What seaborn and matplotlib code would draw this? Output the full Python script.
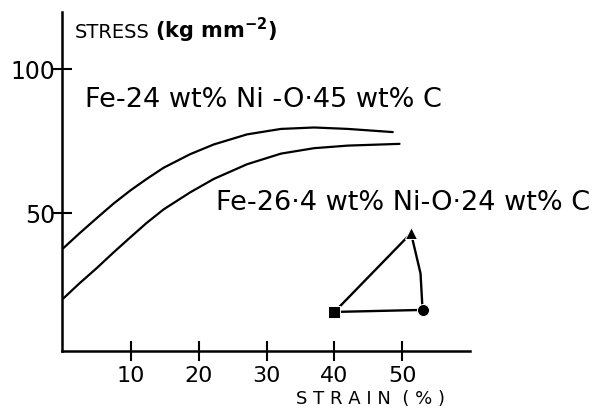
import matplotlib
matplotlib.use('Agg')
import matplotlib.pyplot as plt
import pandas as pd
import seaborn as sns

# curve for Fe-24 wt% Ni - 0.45 wt% C
upper_strain = [0, 2.4, 4.9, 7.4, 9.9, 12.3, 14.8, 18.7, 22.2, 27.1, 32.1, 37, 42, 48.6]
upper_stress = [37.8, 43, 48.2, 53.3, 57.9, 61.9, 65.8, 70.5, 73.9, 77.4, 79.3, 79.8, 79.3, 78.2]

# curve for Fe-26.4 wt% Ni - 0.24 wt% C
lower_strain = [0, 2.4, 4.9, 7.4, 9.9, 12.3, 14.8, 18.7, 22.2, 27.1, 32.1, 37, 42, 49.6]
lower_stress = [20.3, 25.6, 30.8, 36.3, 41.6, 46.6, 51.3, 57.2, 61.9, 67.0, 70.7, 72.6, 73.5, 74.1]

# closed triangle outline (right side bows out a little)
tri_strain = [40, 51.3, 52.7, 53, 40]
tri_stress = [15.6, 43, 29, 16.3, 15.6]
pt_strain = [40, 51.3, 53]
pt_stress = [15.6, 43, 16.3]
pt_marker = ['s', '^', 'o']

x_ticks = [10, 20, 30, 40, 50]
y_ticks = [50, 100]

sns.set_style('ticks')
plt.rcParams['font.family'] = ['DejaVu Sans']
plt.rcParams['text.color'] = 'black'
plt.rcParams['xtick.color'] = 'black'
plt.rcParams['ytick.color'] = 'black'

fig = plt.figure(figsize=(6.11, 4.11), dpi=100)
ax = fig.add_axes([62 / 611, 60 / 411, 408 / 611, 339 / 411])

up = pd.DataFrame({'strain': upper_strain, 'stress': upper_stress})
lo = pd.DataFrame({'strain': lower_strain, 'stress': lower_stress})
sns.lineplot(data=up, x='strain', y='stress', color='black', lw=1.6, ax=ax)
sns.lineplot(data=lo, x='strain', y='stress', color='black', lw=1.6, ax=ax)

tri = pd.DataFrame({'strain': tri_strain, 'stress': tri_stress})
sns.lineplot(data=tri, x='strain', y='stress', sort=False, estimator=None,
             color='black', lw=1.7, ax=ax)
for xs, ys, m in zip(pt_strain, pt_stress, pt_marker):
    sns.scatterplot(x=[xs], y=[ys], marker=m, color='black', s=75, ax=ax, zorder=5)

ax.set_xlim(-0.2, 60)
ax.set_ylim(2, 120)
ax.set_xticks(x_ticks)
ax.set_yticks(y_ticks)
ax.tick_params(direction='inout', length=14, width=1.5, labelsize=16, color='black')
ax.tick_params(axis='y', pad=-2, labelsize=17)
for s in ['top', 'right']:
    ax.spines[s].set_visible(False)
for s in ['left', 'bottom']:
    ax.spines[s].set_linewidth(1.8)
    ax.spines[s].set_color('black')
ax.set_xlabel('')
ax.set_ylabel('')

fig.text(0.485, 0.03, 'S T R A I N  ( % )', fontsize=13, ha='left', va='center')
fig.text(0.122, 0.922, 'STRESS', fontsize=14, ha='left', va='center')
fig.text(0.254, 0.925, r'(kg mm$^{\mathbf{-2}}$)', fontsize=15, fontweight='bold',
         ha='left', va='center')

ax.text(3.2, 89.5, 'Fe-24 wt% Ni -O·45 wt% C', fontsize=19.5, ha='left', va='center')
ax.text(22.5, 53.5, 'Fe-26·4 wt% Ni-O·24 wt% C', fontsize=19.5, ha='left', va='center')

fig.savefig('out.png', dpi=100)
